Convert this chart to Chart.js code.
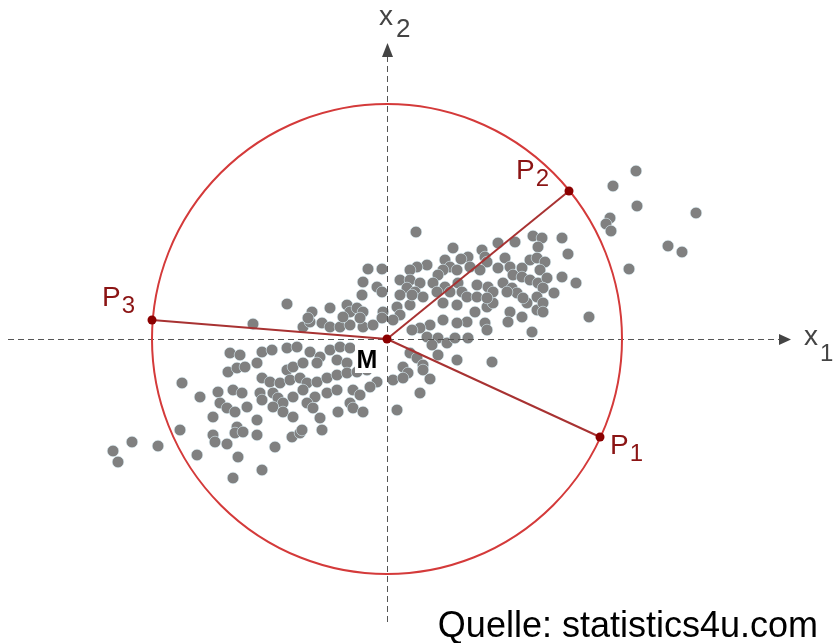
<!DOCTYPE html>
<html><head><meta charset="utf-8">
<script src="https://cdn.jsdelivr.net/npm/chart.js@4.4.1/dist/chart.umd.min.js"></script>
<style>html,body{margin:0;padding:0;background:#fff}#wrap{width:833px;height:643px;position:relative}</style>
</head><body><div id="wrap"><canvas id="c"></canvas></div>
<script>
// Observations (x1, x2), centred on the mean M (arbitrary units)
const cloudPoints = [
[-157,-14],[-147,-16],[-159,-33],[-150,-29],[-142,-28],[-205,-44],[-169,-53],[-154,-51],[-145,-54],[-187,-58],
[-167,-64],[-160,-69],[-152,-73],[-140,-68],[-174,-78],[-207,-91],[-150,-88],[-152,-94],[-144,-93],[-174,-96],
[-172,-103],[-160,-105],[-255,-103],[-229,-107],[-274,-112],[-269,-123],[-190,-116],[-149,-118],[-154,-139],[-134,15],
[-84,12],[-77,17],[-65,16],[-57,12],[-47,12],[-37,14],[-24,12],[-14,14],[-125,-13],[-115,-11],
[-130,-24],[-100,-9],[-90,-8],[-77,-13],[-67,-18],[-57,-11],[-47,-8],[-37,-9],[-100,-31],[-94,-28],
[-84,-24],[-70,-24],[-50,-21],[-40,-24],[-125,-39],[-117,-43],[-107,-44],[-97,-41],[-87,-39],[-80,-44],
[-70,-43],[-60,-39],[-50,-36],[-40,-34],[-30,-33],[-20,-31],[-10,-43],[-17,-48],[-127,-54],[-125,-61],
[-114,-54],[-109,-59],[-94,-58],[-104,-64],[-84,-51],[-72,-58],[-60,-54],[-50,-51],[-34,-51],[-27,-56],
[-114,-68],[-104,-73],[-94,-78],[-80,-64],[-74,-69],[-37,-64],[-34,-69],[-24,-73],[-49,-73],[-130,-81],
[-130,-96],[-67,-79],[-65,-91],[-95,-98],[-87,-94],[-85,-91],[-112,-108],[-125,-131],
[10,32],[23,34],[13,24],[6,19],[56,36],[70,34],[88,27],[100,32],[106,36],[123,27],
[121,17],[135,22],[140,36],[150,29],[98,16],[100,9],[80,17],[70,16],[56,19],[43,14],
[33,11],[25,9],[40,2],[51,1],[60,-4],[68,1],[81,1],[45,-6],[51,-16],[70,-21],
[105,-23],[145,7],[23,-14],[30,-19],[36,-26],[36,-31],[16,-28],[21,-34],[6,-41],[16,-39],
[43,-40],[33,-54],[10,-71],
[-19,70],[-5,70],[-24,57],[-10,52],[-5,47],[-25,44],[-100,35],[-57,31],[-75,27],[-79,21],
[-40,34],[-37,27],[-30,31],[-24,27],[-27,21],[-44,22],[-4,27],[-5,21],
[29,107],[66,91],[81,82],[74,80],[95,89],[98,82],[111,96],[128,97],[146,103],[155,101],
[151,92],[118,81],[100,77],[58,79],[63,72],[70,69],[56,69],[51,64],[40,74],[30,72],
[23,69],[83,72],[93,69],[111,71],[123,72],[135,71],[126,64],[135,62],[143,79],[150,81],
[158,77],[153,69],[13,59],[23,59],[33,56],[20,51],[28,47],[46,56],[58,52],[50,47],
[63,47],[71,56],[75,47],[90,54],[101,52],[106,47],[116,56],[125,51],[130,46],[120,47],
[143,59],[151,56],[160,61],[156,51],[36,42],[25,44],[13,44],[80,42],[90,42],[100,41],
[136,41],[150,42],
[249,168],[226,153],[250,133],[309,126],[223,121],[219,115],[224,108],[175,101],[181,85],[281,93],
[295,87],[242,70],[175,62],[189,56],[167,46],[156,36],[156,27],[202,22]
];
const meanPoint = [0, 0];
const circleRadius = 235;
const pointNames = ['P', 'P', 'P'];
const pointSubs = ['1', '2', '3'];
const pointX = [213, 182, -235];
const pointY = [-98, 148, 19];
const axisNames = ['x', 'x'];
const axisSubs = ['1', '2'];
const axisX = [-379, 404];
const axisY = [-283, 296];
const xRange = [-387, 446];
const yRange = [-304, 339];
const meanLabel = 'M';
const sourceText = 'Quelle: statistics4u.com';

const overlay = {
  id: 'overlay',
  afterDatasetDraw(chart, args) {
    if (args.index !== 0) return;
    const ctx = chart.ctx, xs = chart.scales.x, ys = chart.scales.y;
    const X = v => xs.getPixelForValue(v), Y = v => ys.getPixelForValue(v);
    ctx.save();
    const cx = Math.round(X(meanPoint[0])) + 0.5, cy = Math.round(Y(meanPoint[1])) + 0.5;
    ctx.strokeStyle = '#555'; ctx.lineWidth = 1; ctx.setLineDash([6, 4]);
    ctx.beginPath(); ctx.moveTo(X(axisX[0]), cy); ctx.lineTo(X(axisX[1]) - 10, cy); ctx.stroke();
    ctx.beginPath(); ctx.moveTo(cx, Y(axisY[0])); ctx.lineTo(cx, Y(axisY[1]) + 13); ctx.stroke();
    ctx.setLineDash([]);
    ctx.fillStyle = '#444';
    const hx = X(axisX[1]);
    ctx.beginPath(); ctx.moveTo(hx, cy); ctx.lineTo(hx - 12, cy - 5.5); ctx.lineTo(hx - 12, cy + 5.5); ctx.closePath(); ctx.fill();
    const vy = Y(axisY[1]);
    ctx.beginPath(); ctx.moveTo(cx, vy); ctx.lineTo(cx - 5.5, vy + 14); ctx.lineTo(cx + 5.5, vy + 14); ctx.closePath(); ctx.fill();
    const r = X(circleRadius) - X(0);
    ctx.strokeStyle = '#d43a3a'; ctx.lineWidth = 2;
    ctx.beginPath(); ctx.arc(X(meanPoint[0]), Y(meanPoint[1]), r, 0, 2 * Math.PI); ctx.stroke();
    ctx.restore();
  },
  afterDraw(chart) {
    const ctx = chart.ctx, xs = chart.scales.x, ys = chart.scales.y;
    const X = v => xs.getPixelForValue(v), Y = v => ys.getPixelForValue(v);
    ctx.save();
    const F = 'Liberation Sans, Arial, sans-serif';
    const offs = [[10, 17], [-53, -12], [-50, -14]];
    ctx.fillStyle = '#8b1414'; ctx.textBaseline = 'alphabetic'; ctx.textAlign = 'left';
    for (let i = 0; i < pointNames.length; i++) {
      const px = X(pointX[i]) + offs[i][0], py = Y(pointY[i]) + offs[i][1];
      ctx.font = '28px ' + F; ctx.fillText(pointNames[i], px, py);
      const w = ctx.measureText(pointNames[i]).width;
      ctx.font = '24px ' + F; ctx.fillText(pointSubs[i], px + w + 1, py + 7);
    }
    ctx.fillStyle = '#444';
    ctx.font = '28px ' + F; ctx.fillText(axisNames[0], 804, 345);
    ctx.font = '24px ' + F; ctx.fillText(axisSubs[0], 820, 361);
    ctx.font = '28px ' + F; ctx.fillText(axisNames[1], 379, 25);
    ctx.font = '26px ' + F; ctx.fillText(axisSubs[1], 396, 37);
    const mx = X(meanPoint[0]), my = Y(meanPoint[1]);
    ctx.fillStyle = '#fff'; ctx.fillRect(mx - 32, my + 5, 25, 29);
    ctx.fillStyle = '#000'; ctx.font = 'bold 25px ' + F; ctx.textAlign = 'center';
    ctx.fillText(meanLabel, mx - 20, my + 29);
    ctx.textAlign = 'right'; ctx.font = '36px ' + F; ctx.fillStyle = '#000';
    ctx.fillText(sourceText, 818, 637);
    ctx.restore();
  }
};

const lineSets = pointX.map((x, i) => ({
  type: 'line', data: [{x: meanPoint[0], y: meanPoint[1]}, {x: x, y: pointY[i]}],
  borderColor: '#a83232', borderWidth: 2, pointRadius: 0, showLine: true, fill: false, order: 5
}));

new Chart(document.getElementById('c'), {
  type: 'scatter',
  data: {
    datasets: [
      { data: cloudPoints.map(p => ({x: p[0], y: p[1]})), backgroundColor: '#808080',
        borderColor: 'rgba(220,240,248,0.7)', borderWidth: 0.8, pointRadius: 5.8, order: 10 },
      ...lineSets,
      { data: [{x: meanPoint[0], y: meanPoint[1]}].concat(pointX.map((x, i) => ({x: x, y: pointY[i]}))),
        backgroundColor: '#8b0000', borderColor: '#8b0000', borderWidth: 0, pointRadius: 4.5, order: 1 }
    ]
  },
  options: {
    responsive: true, maintainAspectRatio: false, animation: false,
    layout: { padding: 0, autoPadding: false },
    plugins: { legend: { display: false }, tooltip: { enabled: false } },
    scales: {
      x: { type: 'linear', display: false, min: xRange[0], max: xRange[1] },
      y: { type: 'linear', display: false, min: yRange[0], max: yRange[1] }
    }
  },
  plugins: [overlay]
});
</script></body></html>
